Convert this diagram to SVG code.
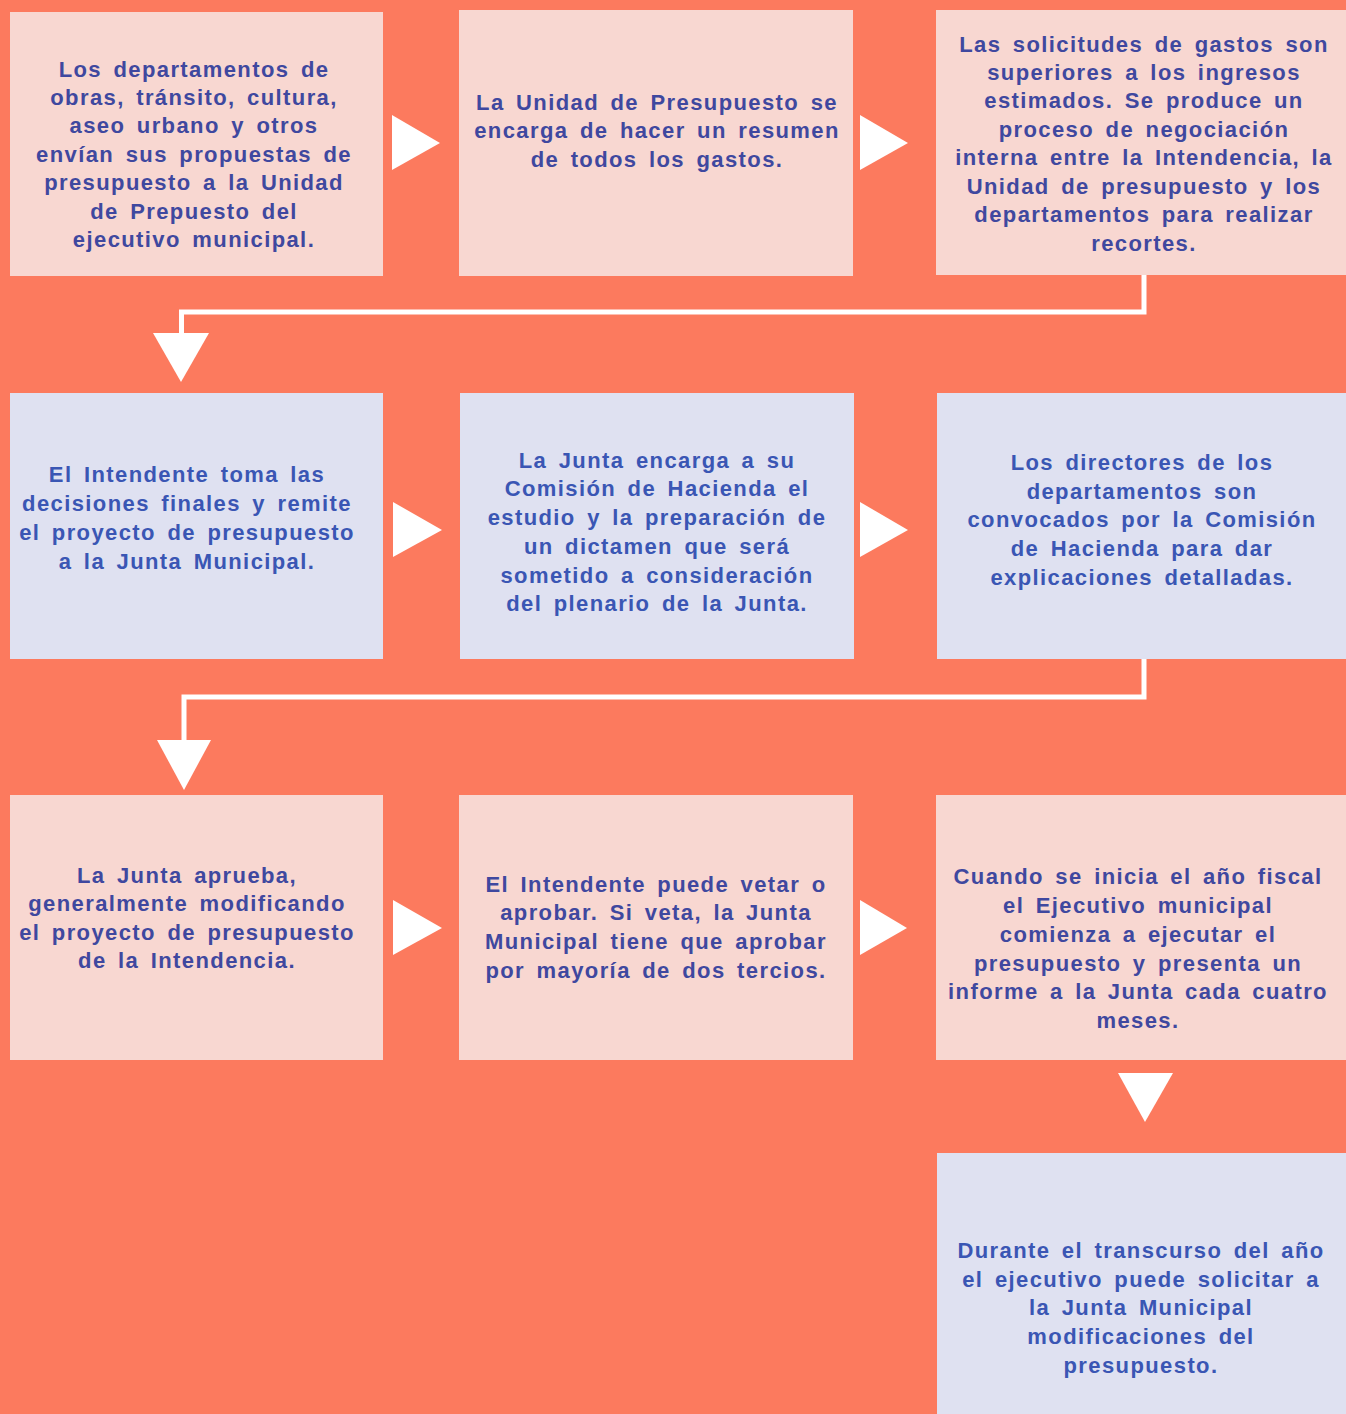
<svg xmlns="http://www.w3.org/2000/svg" width="1346" height="1414" viewBox="0 0 1346 1414">
<style>
.pink{fill:#f8d7d1}
.blue{fill:#dfe1f1}
text{font-family:"Liberation Sans",Arial,sans-serif;font-weight:bold;font-size:22px;letter-spacing:1.4px;word-spacing:4px;text-anchor:middle}
.tp{fill:#3f489f}
.tb{fill:#3a56b4}
.line{fill:none;stroke:#ffffff;stroke-width:5}
.tri{fill:#ffffff}
</style>
<rect x="0" y="0" width="1346" height="1414" fill="#fc7a5e"/>
<g id="connectors">
<polygon class="tri" points="392,115 392,170 440,143"/>
<polygon class="tri" points="860,115 860,170 908,143"/>
<path class="line" d="M1144,275 V312 H181.5 V334"/>
<polygon class="tri" points="153,333 209,333 181,382"/>
<polygon class="tri" points="393,502 393,557 442,530"/>
<polygon class="tri" points="860,502 860,557 908,530"/>
<path class="line" d="M1144,659 V697 H184 V741"/>
<polygon class="tri" points="157,740 211,740 184,790"/>
<polygon class="tri" points="393,900 393,955 442,928"/>
<polygon class="tri" points="860,900 860,955 907,928"/>
<polygon class="tri" points="1118,1073 1173,1073 1145,1122"/>
</g>
<g id="n1">
<rect class="pink" x="10" y="12" width="373" height="264"/>
<text class="tp"><tspan x="194" y="77">Los departamentos de</tspan><tspan x="194" y="105">obras, tránsito, cultura,</tspan><tspan x="194" y="133">aseo urbano y otros</tspan><tspan x="194" y="162">envían sus propuestas de</tspan><tspan x="194" y="190">presupuesto a la Unidad</tspan><tspan x="194" y="219">de Prepuesto del</tspan><tspan x="194" y="247">ejecutivo municipal.</tspan></text>
</g>
<g id="n2">
<rect class="pink" x="459" y="10" width="394" height="266"/>
<text class="tp"><tspan x="657" y="110">La Unidad de Presupuesto se</tspan><tspan x="657" y="138">encarga de hacer un resumen</tspan><tspan x="657" y="167">de todos los gastos.</tspan></text>
</g>
<g id="n3">
<rect class="pink" x="936" y="10" width="410" height="265"/>
<text class="tp"><tspan x="1144" y="52">Las solicitudes de gastos son</tspan><tspan x="1144" y="80">superiores a los ingresos</tspan><tspan x="1144" y="108">estimados. Se produce un</tspan><tspan x="1144" y="137">proceso de negociación</tspan><tspan x="1144" y="165">interna entre la Intendencia, la</tspan><tspan x="1144" y="194">Unidad de presupuesto y los</tspan><tspan x="1144" y="222">departamentos para realizar</tspan><tspan x="1144" y="251">recortes.</tspan></text>
</g>
<g id="n4">
<rect class="blue" x="10" y="393" width="373" height="266"/>
<text class="tb"><tspan x="187" y="482">El Intendente toma las</tspan><tspan x="187" y="511">decisiones finales y remite</tspan><tspan x="187" y="540">el proyecto de presupuesto</tspan><tspan x="187" y="569">a la Junta Municipal.</tspan></text>
</g>
<g id="n5">
<rect class="blue" x="460" y="393" width="394" height="266"/>
<text class="tb"><tspan x="657" y="468">La Junta encarga a su</tspan><tspan x="657" y="496">Comisión de Hacienda el</tspan><tspan x="657" y="525">estudio y la preparación de</tspan><tspan x="657" y="554">un dictamen que será</tspan><tspan x="657" y="583">sometido a consideración</tspan><tspan x="657" y="611">del plenario de la Junta.</tspan></text>
</g>
<g id="n6">
<rect class="blue" x="937" y="393" width="409" height="266"/>
<text class="tb"><tspan x="1142" y="470">Los directores de los</tspan><tspan x="1142" y="499">departamentos son</tspan><tspan x="1142" y="527">convocados por la Comisión</tspan><tspan x="1142" y="556">de Hacienda para dar</tspan><tspan x="1142" y="585">explicaciones detalladas.</tspan></text>
</g>
<g id="n7">
<rect class="pink" x="10" y="795" width="373" height="265"/>
<text class="tp"><tspan x="187" y="883">La Junta aprueba,</tspan><tspan x="187" y="911">generalmente modificando</tspan><tspan x="187" y="940">el proyecto de presupuesto</tspan><tspan x="187" y="968">de la Intendencia.</tspan></text>
</g>
<g id="n8">
<rect class="pink" x="459" y="795" width="394" height="265"/>
<text class="tp"><tspan x="656" y="892">El Intendente puede vetar o</tspan><tspan x="656" y="920">aprobar. Si veta, la Junta</tspan><tspan x="656" y="949">Municipal tiene que aprobar</tspan><tspan x="656" y="978">por mayoría de dos tercios.</tspan></text>
</g>
<g id="n9">
<rect class="pink" x="936" y="795" width="410" height="265"/>
<text class="tp"><tspan x="1138" y="884">Cuando se inicia el año fiscal</tspan><tspan x="1138" y="913">el Ejecutivo municipal</tspan><tspan x="1138" y="942">comienza a ejecutar el</tspan><tspan x="1138" y="971">presupuesto y presenta un</tspan><tspan x="1138" y="999">informe a la Junta cada cuatro</tspan><tspan x="1138" y="1028">meses.</tspan></text>
</g>
<g id="n10">
<rect class="blue" x="937" y="1153" width="409" height="261"/>
<text class="tb"><tspan x="1141" y="1258">Durante el transcurso del año</tspan><tspan x="1141" y="1287">el ejecutivo puede solicitar a</tspan><tspan x="1141" y="1315">la Junta Municipal</tspan><tspan x="1141" y="1344">modificaciones del</tspan><tspan x="1141" y="1373">presupuesto.</tspan></text>
</g>
</svg>
